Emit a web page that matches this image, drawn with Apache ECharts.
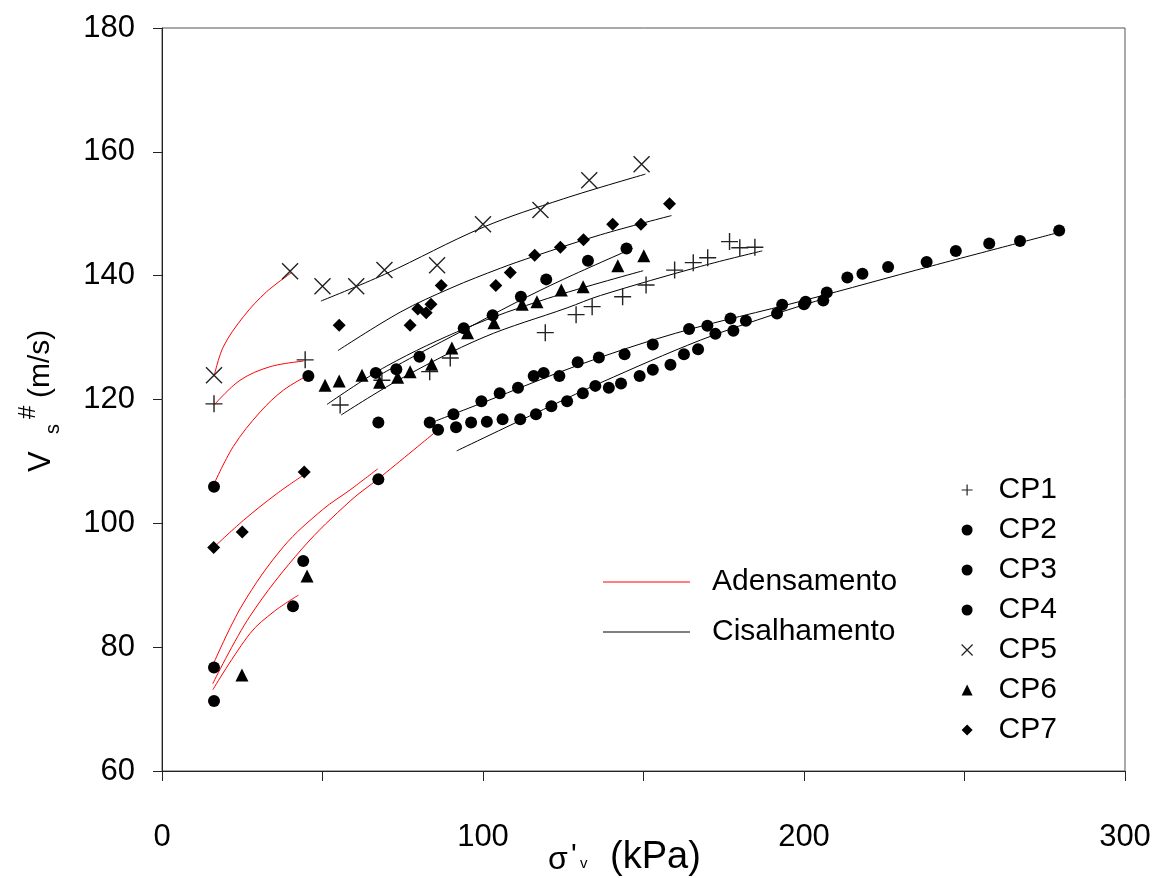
<!DOCTYPE html>
<html>
<head>
<meta charset="utf-8">
<script src="https://cdn.jsdelivr.net/npm/echarts@6/dist/echarts.min.js"></script>
<style>
  html, body { margin: 0; padding: 0; background: #fff; }
  #chart { width: 1153px; height: 878px; }
</style>
</head>
<body>
<div id="chart"></div>
<script>
// Axis ticks
const xTickValues = [0, 50, 100, 150, 200, 250, 300];
const xLabelValues = [0, 100, 200, 300];
const yTickValues = [60, 80, 100, 120, 140, 160, 180];

// Measured points [sigma'v (kPa), Vs# (m/s)] per specimen
const cp1 = [[16.2,119.3],[44.6,126.4],[55.5,119.1],[68.5,123.1],[83.4,124.5],[89.8,126.7],[119.4,130.8],[129,133.7],[134,135],[143.5,136.6],[150.8,138.5],[159.7,140.9],[165.5,142.1],[170,142.9],[176.8,145.5],[180,144.5],[184.7,144.6]];
const cp2 = [[16.2,76.7],[44,93.9],[67.4,116.3],[83.4,116.3],[90.8,117.6],[99.5,119.7],[105.2,121],[110.9,121.9],[115.8,123.8],[118.9,124.3],[123.8,123.8],[129.5,126],[136.1,126.8],[144.1,127.3],[152.9,128.9],[164.2,131.4],[169.9,131.9],[177.1,133.1],[193.2,135.3],[200.5,135.8],[207.1,137.3],[213.5,139.7],[218.2,140.3],[226.2,141.4],[238.2,142.2],[247.3,144],[257.7,145.2],[267.3,145.6],[279.5,147.3]];
const cp3 = [[16.2,71.3],[40.8,86.6],[67.4,107.1],[86,115.1],[91.6,115.5],[96.3,116.3],[101.2,116.4],[106.1,116.8],[111.6,116.8],[116.5,117.6],[121.3,118.9],[126.2,119.7],[131.1,121],[135,122.2],[139.2,121.9],[143,122.6],[148.8,123.8],[152.9,124.8],[158.4,125.6],[162.6,127.3],[167,128.1],[172.4,130.6],[178,131.1],[181.9,132.7],[191.6,133.9],[200,135.4],[206,136]];
const cp4 = [[16.2,105.9],[45.6,123.8],[66.6,124.3],[73,124.9],[80.2,126.9],[94,131.5],[103,133.6],[111.8,136.6],[119.7,139.4],[132.7,142.4],[144.7,144.4]];
const cp5 = [[16.2,123.9],[39.9,140.7],[50,138.3],[60.5,138.3],[69.3,140.9],[85.7,141.7],[100,148.3],[117.9,150.6],[133.1,155.4],[149.4,158]];
const cp6 = [[24.9,75.5],[45.2,91.5],[50.8,122.3],[55.2,123],[62.3,123.9],[67.8,122.8],[73.4,123.6],[77.3,124.5],[84,125.7],[90.3,128.3],[95.2,130.8],[103.4,132.4],[112.2,135.4],[116.8,135.8],[124.4,137.7],[131.2,138.2],[142,141.6],[150.1,143.2]];
const cp7 = [[16.1,96.1],[25,98.6],[44.3,108.3],[55.2,132],[77.3,132],[79.7,134.6],[82.3,134],[83.8,135.4],[87,138.4],[104,138.4],[108.5,140.5],[116.1,143.3],[124.1,144.6],[131.3,145.8],[140.4,148.3],[149.2,148.3],[158.1,151.6]];

// Fitted curves, consolidation stage (red)
const adensamentoCurves = [
  [[16.2,123.7],[19.1,128.5],[25.4,133.4],[32.6,137.4],[40.4,140.5]],
  [[16.2,119.1],[24.3,123.1],[33.7,125.3],[44.1,126.2]],
  [[15.8,105.9],[22.2,112.4],[30.6,118],[37.8,121.5],[45.1,123.8]],
  [[16.1,96.1],[25.4,100.5],[35.8,104.8],[44.1,107.8]],
  [[16.1,77.4],[25,86.8],[37.8,96.2],[50,102.2],[58.6,105.4],[67.2,108.8]],
  [[15.8,74.1],[27.4,85],[43.8,96],[58.6,103.6],[67.4,107.2],[84.6,114.5]],
  [[15.8,73.1],[27.4,82.2],[35,85.8],[42.5,88.4]]
];

// Fitted curves, shearing stage (black)
const cisalhamentoCurves = [
  [[49.5,135.9],[69.3,140.2],[100,147.8],[125,152.4],[150.6,156.4]],
  [[54.8,127.9],[74.2,134.1],[90,138],[105.4,141.2],[115.8,143.1],[136.6,146.6],[158.7,149.7]],
  [[55.8,117.5],[74.2,123.3],[100,130],[126.2,134.8],[136.6,136.8],[167.8,141.5],[187,144]],
  [[51.4,119.2],[70,125.4],[95,131.6],[120,136.3],[149.9,140.8]],
  [[66.9,123.7],[80,127.4],[94,131.2],[110,135.6],[125,139.4],[146.6,144.4]],
  [[84.6,116.4],[100,119.5],[130,125.6],[160,130.7],[200,136],[240,141.6],[279.5,147]],
  [[91.8,111.7],[120.9,118.9],[136.6,122.7],[167.8,129.6],[191.6,133.9],[207,136.4]]
];

const FONT = '"Liberation Sans", Arial, sans-serif';
const plusPath = 'path://M10,0L10,20M0,10L20,10';
const crossPath = 'path://M0,0L20,20M20,0L0,20';

const specimens = [
  { name: 'CP1', data: cp1, symbol: plusPath, size: 17, open: true },
  { name: 'CP2', data: cp2, symbol: 'circle', size: 12 },
  { name: 'CP3', data: cp3, symbol: 'circle', size: 12 },
  { name: 'CP4', data: cp4, symbol: 'circle', size: 12 },
  { name: 'CP5', data: cp5, symbol: crossPath, size: 16, open: true },
  { name: 'CP6', data: cp6, symbol: 'triangle', size: 13 },
  { name: 'CP7', data: cp7, symbol: 'diamond', size: 13 }
];

const series = [];
adensamentoCurves.forEach(c => series.push({
  type: 'line', name: 'Adensamento', data: c, smooth: 0.35, symbol: 'none', showSymbol: false,
  lineStyle: { color: '#ff0000', width: 1 }, itemStyle: { color: '#ff0000' }, silent: true, z: 2
}));
cisalhamentoCurves.forEach(c => series.push({
  type: 'line', name: 'Cisalhamento', data: c, smooth: 0.35, symbol: 'none', showSymbol: false,
  lineStyle: { color: '#000', width: 1 }, itemStyle: { color: '#000' }, silent: true, z: 2
}));
specimens.forEach(s => series.push({
  type: 'scatter', name: s.name, data: s.data, symbol: s.symbol, symbolSize: s.size, z: 3,
  itemStyle: s.open
    ? { color: '#222', borderColor: '#222', borderWidth: 1.4, opacity: 1 }
    : { color: '#000', opacity: 1 }
}));

const textStyleOf = (size, family) => ({ font: size + 'px ' + family, textAlign: 'left', textVerticalAlign: 'middle', fill: '#000' });

const chart = echarts.init(document.getElementById('chart'), null, { renderer: 'canvas' });
chart.setOption({
  animation: false,
  backgroundColor: '#fff',
  grid: {
    left: 162, right: 28, top: 28, bottom: 107, containLabel: false, outerBoundsMode: 'none',
    show: true, borderColor: '#555', borderWidth: 1
  },
  xAxis: {
    type: 'value',
    min: xTickValues[0], max: xTickValues[xTickValues.length - 1], interval: xTickValues[1] - xTickValues[0],
    axisLine: { show: true, lineStyle: { color: '#222', width: 1 } },
    axisTick: { show: true, inside: false, length: 10, lineStyle: { color: '#222' } },
    axisLabel: {
      margin: 51, fontSize: 31, fontFamily: FONT, color: '#000',
      formatter: v => (xLabelValues.indexOf(v) >= 0 ? String(v) : '')
    },
    splitLine: { show: false }
  },
  yAxis: {
    type: 'value',
    min: yTickValues[0], max: yTickValues[yTickValues.length - 1], interval: yTickValues[1] - yTickValues[0],
    axisLine: { show: true, lineStyle: { color: '#222', width: 1 } },
    axisTick: { show: true, inside: false, length: 9, lineStyle: { color: '#222' } },
    axisLabel: { margin: 27, fontSize: 31, fontFamily: FONT, color: '#000' },
    splitLine: { show: false }
  },
  legend: [
    {
      data: [{ name: 'Adensamento', icon: 'rect' }, { name: 'Cisalhamento', icon: 'rect' }],
      orient: 'vertical', left: 603, top: 567, padding: 0,
      itemWidth: 87, itemHeight: 1.2, itemGap: 20, selectedMode: false,
      itemStyle: { borderWidth: 0 },
      textStyle: { fontSize: 30, lineHeight: 30, fontFamily: FONT, color: '#000', padding: [0, 0, 0, 17] }
    },
    {
      data: specimens.map(s => s.name),
      orient: 'vertical', left: 961, top: 475, padding: 0,
      itemWidth: 11, itemHeight: 11, itemGap: 10, selectedMode: false,
      itemStyle: { borderWidth: 1.2, opacity: 1 },
      textStyle: { fontSize: 30, lineHeight: 30, fontFamily: FONT, color: '#000', padding: [0, 0, 0, 21] }
    }
  ],
  graphic: [
    {
      // rotated y-axis title: V, subscript s, superscript #, (m/s)
      type: 'group', x: 41, y: 472, rotation: Math.PI / 2, silent: true,
      children: [
        { type: 'text', style: Object.assign({ text: 'V', x: 0, y: 0 }, textStyleOf(31, FONT)) },
        { type: 'text', style: Object.assign({ text: 's', x: 38, y: 12 }, textStyleOf(20, FONT)) },
        { type: 'text', style: Object.assign({ text: '#', x: 53, y: -13 }, textStyleOf(24, FONT)) },
        { type: 'text', style: Object.assign({ text: '(m/s)', x: 74, y: 0 }, textStyleOf(30, FONT)) }
      ]
    },
    {
      // x-axis title: sigma'v (kPa)
      type: 'group', x: 548, y: 858, silent: true,
      children: [
        { type: 'text', style: Object.assign({ text: 'σ', x: 0, y: 2 }, textStyleOf(32, FONT)) },
        { type: 'text', style: Object.assign({ text: "'", x: 23, y: -2 }, textStyleOf(30, FONT)) },
        { type: 'text', style: Object.assign({ text: 'v', x: 32, y: 6 }, textStyleOf(15, FONT)) },
        { type: 'text', style: Object.assign({ text: '(kPa)', x: 62, y: 0 }, textStyleOf(38, FONT)) }
      ]
    }
  ],
  series: series
});
</script>
</body>
</html>
